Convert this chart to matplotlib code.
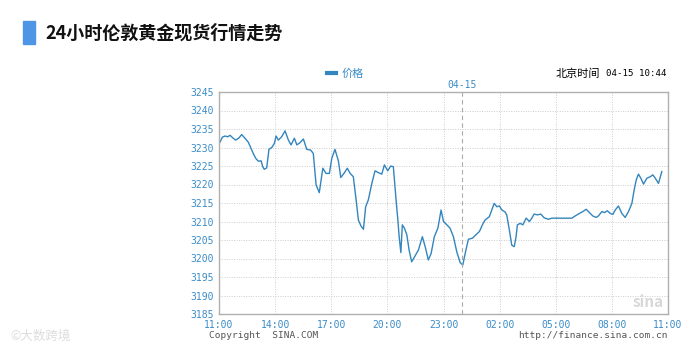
import matplotlib
matplotlib.use("Agg")
import matplotlib.pyplot as plt
from matplotlib.lines import Line2D

plt.rcParams['font.family'] = ['Noto Sans CJK SC', 'DejaVu Sans']

# hours since 11:00 (04-14) and price
hours = [0.00, 0.18, 0.32, 0.47, 0.59, 0.76, 0.89, 1.07, 1.21, 1.39, 1.57, 1.71, 1.83, 1.96,
         2.10, 2.25, 2.34, 2.42, 2.55, 2.67, 2.82, 2.96, 3.05, 3.17, 3.35, 3.53, 3.71, 3.85,
         4.03, 4.16, 4.33, 4.51, 4.69, 4.90, 5.04, 5.19, 5.36, 5.55, 5.72, 5.90, 6.03, 6.20,
         6.38, 6.51, 6.68, 6.86, 7.01, 7.18, 7.33, 7.45, 7.59, 7.72, 7.84, 7.98, 8.17, 8.34,
         8.52, 8.70, 8.84, 9.02, 9.18, 9.32, 9.45, 9.56, 9.63, 9.72, 9.80, 9.91, 10.04, 10.16,
         10.30, 10.48, 10.66, 10.87, 11.02, 11.19, 11.34, 11.51, 11.70, 11.87, 12.00, 12.18,
         12.35, 12.53, 12.71, 12.89, 13.03, 13.16, 13.33, 13.55, 13.73, 13.92, 14.08, 14.22,
         14.45, 14.58, 14.71, 14.85, 14.99, 15.12, 15.29, 15.38, 15.52, 15.65, 15.78, 15.88,
         15.95, 16.10, 16.24, 16.42, 16.59, 16.72, 16.84, 17.02, 17.20, 17.38, 17.61, 17.79,
         17.97, 18.24, 18.59, 18.86, 19.04, 19.27, 19.45, 19.63, 19.80, 19.98, 20.16, 20.28,
         20.47, 20.60, 20.76, 20.91, 21.05, 21.18, 21.35, 21.53, 21.71, 21.89, 22.07, 22.19,
         22.30, 22.42, 22.55, 22.69, 22.87, 23.05, 23.19, 23.32, 23.49, 23.67]
price = [3230.9, 3232.8, 3233.1, 3232.9, 3233.3, 3232.5, 3232.0, 3232.6, 3233.5, 3232.5,
         3231.4, 3229.8, 3228.4, 3227.1, 3226.3, 3226.4, 3224.8, 3224.1, 3224.5, 3229.5,
         3230.0, 3231.1, 3233.1, 3232.0, 3232.9, 3234.5, 3232.0, 3230.7, 3232.5, 3230.7,
         3231.3, 3232.3, 3229.5, 3229.3, 3228.4, 3219.9, 3217.8, 3224.4, 3223.0, 3223.0,
         3227.1, 3229.5, 3226.4, 3221.9, 3223.0, 3224.4, 3223.0, 3222.1, 3215.8, 3210.4,
         3208.8, 3207.9, 3214.0, 3215.8, 3220.3, 3223.7, 3223.2, 3222.8, 3225.3, 3223.7,
         3225.0, 3224.8, 3216.7, 3210.4, 3205.9, 3201.6, 3209.1, 3208.2, 3206.4, 3202.3,
         3199.1, 3200.7, 3202.3, 3205.9, 3203.2, 3199.6, 3201.4, 3205.9, 3208.2, 3213.1,
         3210.0, 3209.1, 3208.2, 3205.9, 3201.8, 3198.9, 3198.2, 3201.4, 3205.2, 3205.5,
         3206.4, 3207.3, 3209.1, 3210.4, 3211.3, 3213.1, 3214.9, 3214.0, 3214.2, 3213.1,
         3212.6, 3211.8, 3207.7, 3203.6, 3203.2, 3205.9, 3209.1, 3209.5, 3209.1, 3210.9,
         3210.0, 3210.9, 3212.0, 3211.8, 3212.0, 3211.0, 3210.6, 3210.9, 3210.9, 3210.9,
         3210.9, 3210.9, 3211.5, 3212.2, 3212.7, 3213.3, 3212.4, 3211.5, 3211.1, 3211.5,
         3212.7, 3212.4, 3212.9, 3212.2, 3211.9, 3213.1, 3214.2, 3212.2, 3211.1, 3212.7,
         3214.9, 3218.5, 3221.2, 3222.8, 3221.7, 3220.1, 3221.7, 3222.1, 3222.6, 3221.7,
         3220.3, 3223.5]

x_ticks = [0, 3, 6, 9, 12, 15, 18, 21, 24]
x_labels = ["11:00", "14:00", "17:00", "20:00", "23:00", "02:00", "05:00", "08:00", "11:00"]
y_ticks = list(range(3185, 3250, 5))
midnight = 13.0

blue = '#3385bd'
label_blue = '#3a8cc8'

fig = plt.figure(figsize=(6.97, 3.51), dpi=100)
ax = fig.add_axes([219/697, 1 - 314/351, 449/697, 222/351])

line, = ax.plot(hours, price, color=blue, lw=1.0, label='价格')
ax.axvline(midnight, color='#aaaaaa', lw=0.8, ls=(0, (4, 3)))

ax.set_xlim(0, 24)
ax.set_ylim(3185, 3245)
ax.set_xticks(x_ticks)
ax.set_xticklabels(x_labels)
ax.set_yticks(y_ticks)
ax.tick_params(length=0, labelsize=7, labelcolor=label_blue, pad=4)
for t in ax.get_xticklabels() + ax.get_yticklabels():
    t.set_family('DejaVu Sans Mono')
ax.grid(True, color='#cccccc', lw=0.7, ls=(0, (1, 1.5)))
for s in ax.spines.values():
    s.set_color('#b0b0b0')
    s.set_linewidth(1.0)

# title
fig.patches.append(plt.Rectangle((23/697, 1 - 44/351), 12/697, 23/351,
                                 transform=fig.transFigure, color='#4f95e6'))
fig.text(45/697, 1 - 33/351, "24小时伦敦黄金现货行情走势", fontsize=13,
         fontweight='bold', va='center', ha='left', color='#111111')

# legend
fig.legend(handles=[Line2D([], [], color=blue, lw=3)], labels=['价格'],
           loc='center', bbox_to_anchor=(345/697, 1 - 74/351), frameon=False,
           handlelength=0.8, handletextpad=0.5, fontsize=8, labelcolor=label_blue)

fig.text(556/697, 1 - 74/351, "北京时间", fontsize=8, va='center', ha='left')
fig.text(667/697, 1 - 74/351, "04-15 10:44", fontsize=6.6, va='center', ha='right',
         family='DejaVu Sans Mono')
fig.text(462/697, 1 - 85/351, "04-15", fontsize=7, va='center', ha='center',
         color=label_blue, family='DejaVu Sans Mono')

fig.text(209/697, 1 - 335/351, "Copyright  SINA.COM", fontsize=6.8, va='center',
         ha='left', color='#555555', family='DejaVu Sans Mono')
fig.text(668/697, 1 - 335/351, "http://finance.sina.com.cn", fontsize=6.8, va='center',
         ha='right', color='#555555', family='DejaVu Sans Mono')

# watermarks
fig.text(664/697, 1 - 302/351, "sina", fontsize=11, style='italic', fontweight='bold',
         va='center', ha='right', color='#d8d8d8')
fig.text(10/697, 1 - 336/351, "©大数跨境", fontsize=9, va='center', ha='left',
         color='#dddddd')

fig.savefig("out.png", dpi=100)
